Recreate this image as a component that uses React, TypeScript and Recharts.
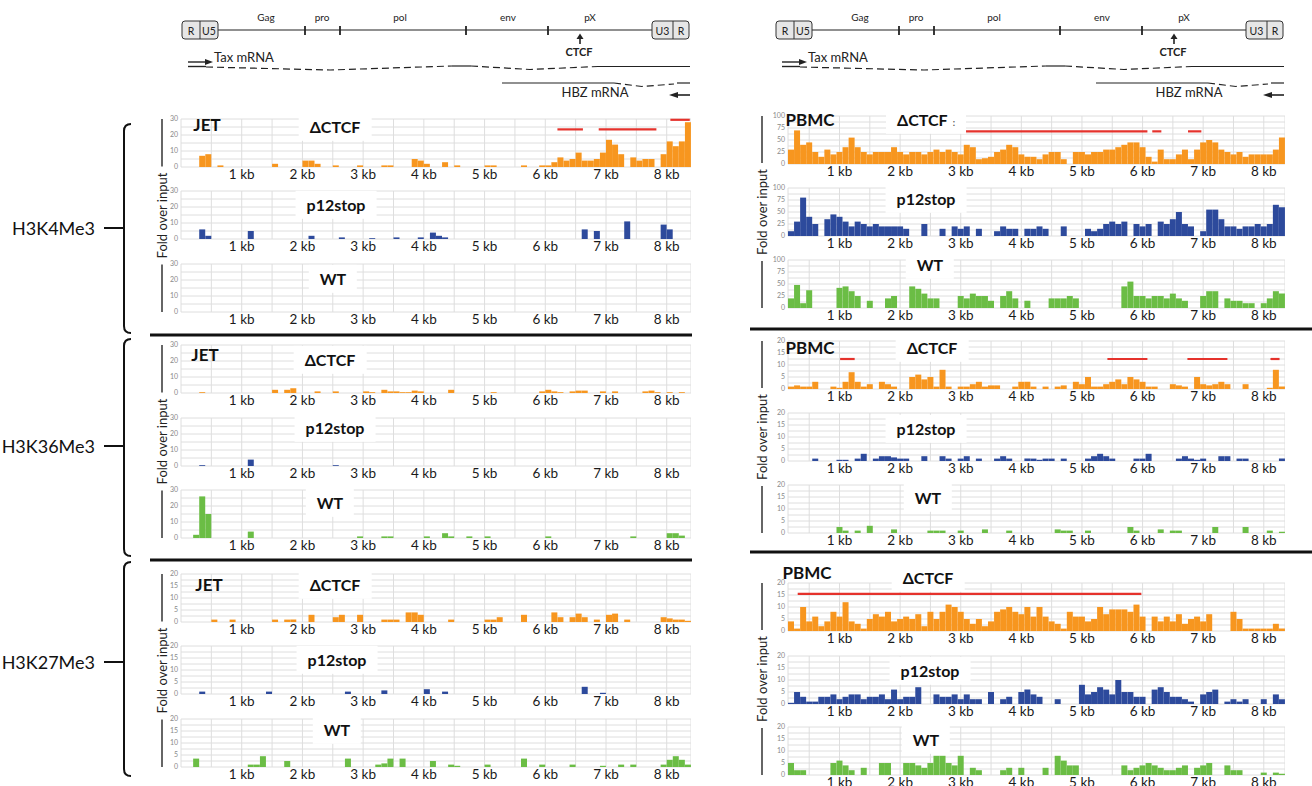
import { BarChart, Bar, XAxis, YAxis, CartesianGrid, ReferenceLine } from 'recharts'

// bin width of every coverage track, in kb
const BIN_KB = 0.1
const kbTicks = [0.5, 1, 1.5, 2, 2.5, 3, 3.5, 4, 4.5, 5, 5.5, 6, 6.5, 7, 7.5, 8]
const yTicks30 = [0, 5, 10, 15, 20, 25, 30]
const yTicks20 = [0, 2.5, 5, 7.5, 10, 12.5, 15, 17.5, 20]
const yTicks100 = [0, 12.5, 25, 37.5, 50, 62.5, 75, 87.5, 100]

// JET cells, bins from 0 kb
const jetK4Ctcf = [
  0, 0, 0, 7, 8, 0, 1, 0, 0, 0, 0, 0, 0, 0, 0, 2, 0, 0, 0, 0,
  4, 4, 2, 0, 0, 1, 0, 0, 0, 1, 0, 0, 0, 1, 1, 0, 0, 0, 5, 4,
  2, 0, 0, 3, 0, 1, 0, 0, 0, 0, 1, 1, 0, 0, 0, 0, 1, 0, 0, 1,
  1, 3, 6, 4, 5, 9, 4, 4, 5, 9, 17, 14, 8, 0, 6, 4, 5, 5, 0, 8,
  16, 13, 16, 28,
]
const jetK4P12 = [
  0, 0, 0, 6, 2, 0, 0, 0, 0, 0, 0, 5, 0, 0, 0, 0, 0, 0, 0, 0,
  0, 2, 0, 0, 0, 0, 1, 0, 0, 0, 0, 0.5, 0, 0, 0, 1, 0, 0, 0, 1,
  0, 4, 2, 1, 0, 0, 0, 0, 0, 0, 0, 0, 0, 0, 0, 0, 0, 0, 0, 0,
  0, 0, 0, 0, 0, 0, 6, 0, 5, 0, 0, 0, 0, 11, 0, 0, 0, 0, 0, 9,
  6, 0, 0, 0,
]
const jetK4Wt = [
  0, 0, 0, 0, 0, 0, 0, 0, 0, 0, 0, 0, 0, 0, 0, 0, 0, 0, 0, 0,
  0, 0, 0, 0, 0, 0, 0, 0, 0, 0, 0, 0, 0, 0, 0, 0, 0, 0, 0, 0,
  0, 0, 0, 0, 0, 0, 0, 0, 0, 0, 0, 0, 0, 0, 0, 0, 0, 0, 0, 0,
  0, 0, 0, 0, 0, 0, 0, 0, 0, 0, 0, 0, 0, 0, 0, 0, 0, 0, 0, 0,
  0, 0, 0, 0,
]
const jetK36Ctcf = [
  0, 0, 0, 0.5, 0, 0, 0, 0, 0, 0, 0, 0, 0, 0, 0, 2, 0, 2, 3, 0,
  0, 0, 1, 0, 0, 1, 0, 0, 0, 0, 1, 0.5, 0, 2, 1, 1, 0.5, 0.5, 1.5, 1,
  0, 0, 0, 0, 2, 0, 0, 0, 0, 0, 0, 0.5, 0, 0, 0, 0, 0, 0, 0, 1,
  2, 1, 0.5, 0, 1, 1.5, 1.5, 0, 0, 1, 0, 1, 0, 0, 0, 0, 1, 1.5, 0.5, 0,
  0.5, 0, 0.5, 0,
]
const jetK36P12 = [
  0, 0, 0, 0.5, 0, 0, 0, 0, 0, 0, 0, 4, 0, 0, 0, 0, 0, 0, 0, 0,
  0, 0, 0, 0, 0, 0.5, 0, 0, 0, 0, 0, 0, 0, 0, 0, 0, 0, 0, 0, 0,
  0, 0, 0, 0, 0, 0, 0, 0, 0, 0, 0, 0, 0, 0, 0, 0, 0, 0, 0, 0,
  0, 0, 0, 0, 0, 0, 0, 0, 0, 0, 0, 0, 0, 0, 0, 0, 0, 0, 0, 0,
  0, 0, 0, 0,
]
const jetK36Wt = [
  0, 0, 2, 26, 15, 0, 0, 0, 0, 0, 0, 4, 0, 0, 0, 0, 0, 0, 0, 0,
  0, 0, 0, 0, 0, 0, 0, 0, 0, 1, 0, 0, 0, 1, 1, 0, 0, 0, 0, 0,
  1, 0, 0, 3, 1, 0, 0, 1, 0, 0, 1, 0, 0, 0, 0, 0, 0, 0, 0, 0,
  1, 0, 0, 0, 0, 0, 0, 0, 0, 0, 0, 0, 0, 0, 1, 0, 0, 0, 0, 0,
  3, 3, 1.5, 0,
]
const jetK27Ctcf = [
  0, 0, 0, 0, 0, 1, 0, 0, 1, 0, 0, 0, 0, 0, 0, 1, 0, 1, 1, 0,
  0, 3, 0, 0, 0, 2, 3, 0, 0, 3, 0, 0, 0, 1, 1, 1, 0, 4, 4, 3,
  0, 0, 0, 0, 1, 0, 0, 0, 0, 0, 1, 1, 2, 0, 0, 0, 3, 0, 0, 0,
  0, 4, 2, 0, 2, 3.5, 2, 0, 1, 0, 3, 3.5, 0, 1, 0, 0, 0, 0, 0, 2,
  1.5, 1, 1, 0.5,
]
const jetK27P12 = [
  0, 0, 0, 1, 0, 0, 0, 0, 0, 0, 0, 0, 0, 0, 1, 0, 0, 0, 0, 0,
  0, 0, 0, 0, 0, 0, 0, 1, 0, 0, 0, 0, 0, 1.5, 0, 0, 0, 0, 0, 0,
  2, 0, 0, 1, 0, 0, 0, 0, 0, 0, 0, 0, 0, 0, 0, 0, 0, 0, 0, 0,
  0, 0, 0, 0, 0, 0, 3, 0, 0, 0.5, 0, 0, 0, 0, 0, 0, 0, 0, 0, 0,
  0, 0, 0, 0,
]
const jetK27Wt = [
  0, 0, 3.5, 0, 0, 0, 0, 0, 0, 0, 0, 1, 1, 4.5, 0, 0, 0, 2.5, 0, 0,
  0, 0, 0, 0, 0, 0, 0, 3.5, 0, 0, 0, 0, 1, 1.5, 3.5, 0, 3.5, 0, 0, 0,
  0, 2.5, 0, 0, 1, 0.5, 0, 0, 0, 0, 1, 0, 0, 0, 0, 0, 3.5, 0, 0, 1,
  0, 0, 0, 0, 1, 0, 0, 0, 0, 0.5, 0, 0, 1, 0, 1, 0, 0, 0, 0, 1,
  3, 4.5, 3, 1,
]

// PBMC, bins from 0.15 kb
const pbmcK4Ctcf = [
  30, 70, 40, 45, 25, 15, 30, 20, 25, 35, 55, 35, 25, 20, 25, 25, 25, 35, 25, 20,
  25, 25, 20, 25, 30, 25, 30, 25, 20, 40, 35, 10, 12, 15, 25, 30, 40, 35, 20, 15,
  15, 10, 20, 25, 25, 10, 0, 25, 25, 20, 25, 25, 30, 30, 35, 40, 45, 45, 35, 15,
  5, 30, 10, 10, 20, 30, 10, 30, 45, 50, 45, 30, 25, 20, 25, 15, 20, 20, 20, 20,
  30, 55,
]
const pbmcK4P12 = [
  10, 30, 80, 40, 25, 0, 35, 45, 40, 30, 20, 30, 25, 20, 25, 20, 20, 20, 20, 15,
  0, 0, 25, 0, 0, 15, 0, 20, 15, 20, 0, 15, 0, 0, 10, 20, 15, 15, 0, 15,
  15, 20, 15, 0, 0, 20, 0, 0, 0, 15, 10, 15, 25, 30, 25, 30, 0, 25, 20, 25,
  0, 30, 25, 35, 50, 25, 20, 0, 10, 55, 55, 35, 20, 20, 15, 20, 20, 25, 20, 25,
  65, 60,
]
const pbmcK4Wt = [
  20, 48, 10, 37, 0, 0, 0, 0, 42, 45, 35, 25, 0, 15, 0, 0, 20, 25, 0, 0,
  45, 40, 30, 20, 20, 0, 0, 0, 25, 20, 30, 25, 25, 15, 0, 25, 35, 20, 0, 15,
  0, 0, 0, 20, 20, 20, 25, 20, 0, 0, 0, 0, 0, 0, 0, 45, 55, 25, 25, 20,
  25, 25, 20, 30, 20, 15, 0, 0, 25, 35, 35, 0, 20, 15, 15, 10, 10, 0, 10, 20,
  35, 30,
]
const pbmcK36Ctcf = [
  1, 1.5, 1, 1, 3, 0, 0, 1, 0.5, 3, 7, 3, 1, 2, 0, 3, 2, 1, 0, 0,
  5, 6, 4, 5, 1, 8, 1, 0, 1, 1, 2, 3, 1, 1.5, 1.5, 0, 0, 1, 3, 3,
  1, 0, 1, 0, 1, 1.5, 0, 3, 2, 5, 1, 1, 2, 3, 4, 2, 5, 4, 3, 1,
  1, 0, 0, 2, 1.5, 1, 0, 5, 2, 1.5, 2, 3, 2, 0, 0, 2, 0, 0, 0, 0.5,
  8, 1,
]
const pbmcK36P12 = [
  0, 0, 0, 0, 1, 0, 0, 0, 0.5, 0.5, 0, 1, 3, 0, 1, 2, 2, 1.5, 1, 1,
  0, 0, 2, 0, 0, 2, 1, 0, 1, 2, 0, 1, 0, 0, 1, 2, 1, 0, 0, 1,
  1, 0.5, 1, 1, 0, 1, 0, 0, 0, 1, 2, 3, 2, 1, 0, 0, 0, 1, 1, 3,
  0, 0, 0, 0, 1, 2, 1, 0.5, 1, 0, 0, 2, 2, 0, 1, 1, 0, 0, 0, 0,
  0, 1,
]
const pbmcK36Wt = [
  0, 0, 0, 0, 0, 0, 0, 0, 2.5, 1, 0, 1, 0, 3, 0, 0, 0, 1.5, 0, 0,
  0, 0, 0, 1, 1, 1, 0, 0, 1, 0, 0, 0, 1.5, 0, 0, 0, 1, 0, 0, 0,
  0, 0, 0, 0, 1.5, 1, 1, 0, 0, 1, 0, 0, 0, 0, 0, 0, 2.5, 1, 0, 0,
  0, 1.5, 0, 1, 1, 0, 0, 0, 0, 0, 2.5, 0, 0, 0, 0, 2.5, 0, 0, 0, 1,
  0, 0.5,
]
const pbmcK27Ctcf = [
  4, 1, 10, 4, 6, 2, 4, 8, 6, 12, 4, 3, 1, 5, 7, 6, 8, 4, 5, 6,
  5, 7, 2, 8, 5, 8, 11, 10, 8, 5, 3, 5, 2, 4, 8, 9, 10, 8, 7, 10,
  6, 10, 6, 4, 3, 1, 8, 6, 6, 4, 5, 10, 7, 9, 9, 9, 8, 11, 6, 0,
  6, 4, 6, 4, 7, 3, 5, 6, 4, 7, 0, 0, 0, 8, 5, 1, 1, 1, 1, 1,
  3, 1,
]
const pbmcK27P12 = [
  0.5, 5, 3, 1, 1, 3, 3, 4, 2, 3, 4, 4, 2, 3, 3, 4, 2, 6, 2, 3,
  3, 7, 0, 0, 4, 3, 3, 4, 2, 4, 2, 2, 0, 5, 0, 2, 3, 0, 5, 6,
  4, 3, 0, 0, 2, 0, 0, 0, 8, 4, 5, 7, 6, 4, 10, 5, 5, 3, 3, 0,
  6, 7, 5, 3, 3, 2, 1, 0, 4, 5, 6, 0, 1, 2, 1, 2, 0, 0, 2, 0,
  4, 2,
]
const pbmcK27Wt = [
  5, 2, 2, 0, 0, 0, 0, 5, 6, 4, 2, 0, 3, 0, 0, 5, 5, 0, 0, 5,
  5, 4, 3, 5, 8, 8, 5, 4, 8, 0, 3, 2, 0, 0, 0, 2, 3, 0, 3, 0,
  0, 0, 3, 0, 8, 6, 4, 4, 0, 0, 0, 0, 0, 0, 0, 4, 2, 3, 4, 5,
  4, 3, 2, 2, 3, 4, 0, 3, 4, 5, 0, 0, 4, 2, 2, 0, 0, 0, 1, 0,
  1, 0.5,
]

// red bars: [from kb, to kb, level]
const jetK4Marks = [[6.2, 6.62, 23.5], [6.88, 7.83, 23.5], [8.06, 8.38, 29.5]]
const pbmcK4Marks = [[3.03, 6.08, 68], [6.16, 6.31, 68], [6.75, 6.97, 68]]
const pbmcK36Marks = [[1.01, 1.25, 12.5], [2.02, 2.69, 12.5], [5.42, 6.08, 12.5], [6.74, 7.4, 12.5], [8.11, 8.26, 12.5]]
const pbmcK27Marks = [[0.31, 5.98, 15.5]]

const ORANGE = '#f7961f'
const BLUE = '#2d4a9c'
const GREEN = '#6bbd45'
const RED = '#e5322c'

const PLOT_H = 48
const AXIS_W = 18
const TOP_PAD = 6
const XAXIS_H = 20

const LEFT = { x: 181, w: 510, start: 0 }
const RIGHT = { x: 788, w: 497, start: 0.15 }

type Col = { x: number; w: number; start: number }
type Track = {
  values: number[]
  col: Col
  top: number
  color: string
  yTicks: number[]
  labelStep: number
  marks?: number[][]
}

const tracks: Track[] = [
  { values: jetK4Ctcf, col: LEFT, top: 119, color: ORANGE, yTicks: yTicks30, labelStep: 10, marks: jetK4Marks },
  { values: jetK4P12, col: LEFT, top: 191, color: BLUE, yTicks: yTicks30, labelStep: 10 },
  { values: jetK4Wt, col: LEFT, top: 264, color: GREEN, yTicks: yTicks30, labelStep: 10 },
  { values: jetK36Ctcf, col: LEFT, top: 345, color: ORANGE, yTicks: yTicks30, labelStep: 10 },
  { values: jetK36P12, col: LEFT, top: 418, color: BLUE, yTicks: yTicks30, labelStep: 10 },
  { values: jetK36Wt, col: LEFT, top: 490, color: GREEN, yTicks: yTicks30, labelStep: 10 },
  { values: jetK27Ctcf, col: LEFT, top: 574, color: ORANGE, yTicks: yTicks20, labelStep: 5 },
  { values: jetK27P12, col: LEFT, top: 646, color: BLUE, yTicks: yTicks20, labelStep: 5 },
  { values: jetK27Wt, col: LEFT, top: 719, color: GREEN, yTicks: yTicks20, labelStep: 5 },
  { values: pbmcK4Ctcf, col: RIGHT, top: 116, color: ORANGE, yTicks: yTicks100, labelStep: 25, marks: pbmcK4Marks },
  { values: pbmcK4P12, col: RIGHT, top: 188, color: BLUE, yTicks: yTicks100, labelStep: 25 },
  { values: pbmcK4Wt, col: RIGHT, top: 260, color: GREEN, yTicks: yTicks100, labelStep: 25 },
  { values: pbmcK36Ctcf, col: RIGHT, top: 341, color: ORANGE, yTicks: yTicks20, labelStep: 5, marks: pbmcK36Marks },
  { values: pbmcK36P12, col: RIGHT, top: 413, color: BLUE, yTicks: yTicks20, labelStep: 5 },
  { values: pbmcK36Wt, col: RIGHT, top: 485, color: GREEN, yTicks: yTicks20, labelStep: 5 },
  { values: pbmcK27Ctcf, col: RIGHT, top: 583, color: ORANGE, yTicks: yTicks20, labelStep: 5, marks: pbmcK27Marks },
  { values: pbmcK27P12, col: RIGHT, top: 656, color: BLUE, yTicks: yTicks20, labelStep: 5 },
  { values: pbmcK27Wt, col: RIGHT, top: 727, color: GREEN, yTicks: yTicks20, labelStep: 5 },
]

// [text, centre x, centre y, big]
const trackLabels: [string, number, number, boolean][] = [
  ['JET', 207, 125, true], ['ΔCTCF', 335, 127, false], ['p12stop', 336, 205, false], ['WT', 333, 279, false],
  ['JET', 205, 355, true], ['ΔCTCF', 330, 360, false], ['p12stop', 335, 428, false], ['WT', 330, 503, false],
  ['JET', 209, 585, true], ['ΔCTCF', 335, 585, false], ['p12stop', 337, 660, false], ['WT', 337, 730, false],
  ['PBMC', 810, 120, true], ['ΔCTCF', 926, 120, false], ['p12stop', 926, 199, false], ['WT', 930, 265, false],
  ['PBMC', 810, 348, true], ['ΔCTCF', 932, 348, false], ['p12stop', 926, 429, false], ['WT', 928, 498, false],
  ['PBMC', 807, 573, true], ['ΔCTCF', 928, 578, false], ['p12stop', 930, 671, false], ['WT', 926, 740, false],
]

const histoneGroups = [
  { name: 'H3K4Me3', y: 228, top: 124, bottom: 333 },
  { name: 'H3K36Me3', y: 446, top: 339, bottom: 556 },
  { name: 'H3K27Me3', y: 662, top: 562, bottom: 776 },
]

const foldAxes = [
  { x: 162, top: 119, bottom: 312 }, { x: 162, top: 345, bottom: 538 }, { x: 162, top: 574, bottom: 767 },
  { x: 762, top: 116, bottom: 308 }, { x: 762, top: 341, bottom: 533 }, { x: 762, top: 583, bottom: 775 },
]

function TrackChart({ t }: { t: Track }) {
  const start = t.col.start
  const end = +(start + t.values.length * BIN_KB).toFixed(3)
  const data = t.values.map((v, i) => ({ bin: i, kb: +(start + (i + 0.5) * BIN_KB).toFixed(3), v }))
  const xTicks = [start, ...kbTicks.filter((k) => k > start + 1e-6 && k < end - 1e-6), end]
  const yMax = t.yTicks[t.yTicks.length - 1]
  return (
    <div style={{ position: 'absolute', left: t.col.x - AXIS_W, top: t.top - TOP_PAD }}>
      <BarChart
        width={t.col.w + AXIS_W}
        height={TOP_PAD + PLOT_H + XAXIS_H}
        data={data}
        margin={{ top: TOP_PAD, right: 0, bottom: 0, left: 0 }}
        barCategoryGap={0}
        barGap={0}
      >
        <CartesianGrid xAxisId="kb" stroke="#dedede" strokeWidth={1} />
        <XAxis
          xAxisId="kb"
          dataKey="kb"
          type="number"
          domain={[start, end]}
          ticks={xTicks}
          interval={0}
          allowDataOverflow
          height={XAXIS_H}
          axisLine={false}
          tickLine={false}
          tickSize={0}
          tickMargin={2}
          tick={{ fontSize: 13.5, fill: '#1a1a1a' }}
          tickFormatter={(v: number) => (Number.isInteger(v) && v >= 1 ? `${v} kb` : '')}
        />
        <XAxis xAxisId="bin" dataKey="bin" type="category" hide height={0} />
        <YAxis
          type="number"
          domain={[0, yMax]}
          ticks={t.yTicks}
          interval={0}
          width={AXIS_W}
          axisLine={false}
          tickLine={false}
          tickSize={0}
          tickMargin={3}
          tick={{ fontSize: 7, fill: '#8a8a8a' }}
          tickFormatter={(v: number) => (v % t.labelStep === 0 ? String(v) : '')}
        />
        <Bar xAxisId="bin" dataKey="v" fill={t.color} isAnimationActive={false} />
        {t.marks?.map(([a, b, y], i) => (
          <ReferenceLine
            key={i}
            xAxisId="kb"
            segment={[{ x: a, y }, { x: b, y }]}
            stroke={RED}
            strokeWidth={2.2}
          />
        ))}
      </BarChart>
    </div>
  )
}

function GenomeMap({ dx }: { dx: number }) {
  const X = (x: number) => x + dx
  const ink = '#222'
  return (
    <g>
      {[['Gag', 266], ['pro', 322], ['pol', 400], ['env', 508], ['pX', 590]].map(([s, x]) => (
        <text key={s as string} x={X(x as number)} y={17} fontSize={10} textAnchor="middle" dominantBaseline="central" fill={ink}>
          {s}
        </text>
      ))}
      <line x1={X(218)} y1={30} x2={X(652)} y2={30} stroke={ink} strokeWidth={1.2} />
      {[305, 340, 466, 548].map((x) => (
        <line key={x} x1={X(x)} y1={26} x2={X(x)} y2={35} stroke={ink} strokeWidth={1.8} />
      ))}
      <rect x={X(182)} y={21} width={36} height={18} rx={3} fill="#e6e6e6" stroke="#333" strokeWidth={1} />
      <line x1={X(200)} y1={21} x2={X(200)} y2={39} stroke="#333" strokeWidth={1} />
      <text x={X(191)} y={30.5} fontSize={10.5} textAnchor="middle" dominantBaseline="central" fill={ink}>R</text>
      <text x={X(209)} y={30.5} fontSize={10.5} textAnchor="middle" dominantBaseline="central" fill={ink}>U5</text>
      <rect x={X(652)} y={21} width={37} height={18} rx={3} fill="#e6e6e6" stroke="#333" strokeWidth={1} />
      <line x1={X(673)} y1={21} x2={X(673)} y2={39} stroke="#333" strokeWidth={1} />
      <text x={X(662.5)} y={30.5} fontSize={10.5} textAnchor="middle" dominantBaseline="central" fill={ink}>U3</text>
      <text x={X(681)} y={30.5} fontSize={10.5} textAnchor="middle" dominantBaseline="central" fill={ink}>R</text>
      <line x1={X(580)} y1={37} x2={X(580)} y2={44} stroke={ink} strokeWidth={1.6} />
      <polygon points={`${X(576.5)},39 ${X(583.5)},39 ${X(580)},33.5`} fill={ink} />
      <text x={X(579)} y={51} fontSize={11} fontWeight={700} textAnchor="middle" dominantBaseline="central" fill={ink}>CTCF</text>
      <text x={X(214)} y={57} fontSize={13} dominantBaseline="central" fill={ink}>Tax mRNA</text>
      <line x1={X(188)} y1={62} x2={X(207)} y2={62} stroke={ink} strokeWidth={1.4} />
      <polygon points={`${X(205)},59 ${X(213)},62 ${X(205)},65`} fill={ink} />
      <line x1={X(188)} y1={66.5} x2={X(206)} y2={66.5} stroke={ink} strokeWidth={1.4} />
      <polyline points={`${X(206)},67 ${X(330)},70 ${X(452)},66`} fill="none" stroke={ink} strokeWidth={1.2} strokeDasharray="7 4" />
      <line x1={X(452)} y1={66} x2={X(471)} y2={66} stroke={ink} strokeWidth={1.2} />
      <polyline points={`${X(471)},66 ${X(530)},69.5 ${X(598)},66.5`} fill="none" stroke={ink} strokeWidth={1.2} strokeDasharray="7 4" />
      <line x1={X(598)} y1={66.5} x2={X(690)} y2={66.5} stroke={ink} strokeWidth={1.2} />
      <line x1={X(502)} y1={83} x2={X(614)} y2={83} stroke={ink} strokeWidth={1.2} />
      <polyline points={`${X(614)},83 ${X(642)},86.5 ${X(674)},84`} fill="none" stroke={ink} strokeWidth={1.2} strokeDasharray="7 4" />
      <line x1={X(677)} y1={83} x2={X(690)} y2={83} stroke={ink} strokeWidth={1.2} />
      <text x={X(595)} y={92} fontSize={13} textAnchor="middle" dominantBaseline="central" fill={ink}>HBZ mRNA</text>
      <line x1={X(676)} y1={95} x2={X(690)} y2={95} stroke={ink} strokeWidth={1.6} />
      <polygon points={`${X(678)},92 ${X(669)},95 ${X(678)},98`} fill={ink} />
    </g>
  )
}

function Overlay() {
  return (
    <svg width={1312} height={786} style={{ position: 'absolute', left: 0, top: 0, pointerEvents: 'none' }}>
      <GenomeMap dx={0} />
      <GenomeMap dx={594} />
      {histoneGroups.map((g) => (
        <g key={g.name}>
          <text x={95} y={g.y} fontSize={18} textAnchor="end" dominantBaseline="central" fill="#111">{g.name}</text>
          <line x1={104} y1={g.y} x2={124} y2={g.y} stroke="#111" strokeWidth={2} />
          <path
            d={`M 131 ${g.top} Q 124 ${g.top} 124 ${g.top + 7} L 124 ${g.bottom - 7} Q 124 ${g.bottom} 131 ${g.bottom}`}
            fill="none"
            stroke="#111"
            strokeWidth={2}
          />
        </g>
      ))}
      {foldAxes.map((f, i) => {
        const cy = (f.top + f.bottom) / 2
        return (
          <g key={i}>
            <line x1={f.x} y1={f.top} x2={f.x} y2={cy - 49} stroke="#333" strokeWidth={1.5} />
            <line x1={f.x} y1={cy + 49} x2={f.x} y2={f.bottom} stroke="#333" strokeWidth={1.5} />
            <text
              x={f.x}
              y={cy}
              fontSize={13}
              textAnchor="middle"
              dominantBaseline="central"
              fill="#222"
              transform={`rotate(-90 ${f.x} ${cy})`}
            >
              Fold over input
            </text>
          </g>
        )
      })}
      <line x1={150} y1={335} x2={692} y2={335} stroke="#111" strokeWidth={3} />
      <line x1={150} y1={560} x2={692} y2={560} stroke="#111" strokeWidth={3} />
      <line x1={750} y1={329} x2={1312} y2={329} stroke="#111" strokeWidth={3} />
      <line x1={750} y1={552} x2={1312} y2={552} stroke="#111" strokeWidth={3} />
    </svg>
  )
}

export default function App() {
  return (
    <div
      style={{
        position: 'absolute',
        left: 0,
        top: 0,
        width: 1312,
        height: 786,
        background: '#fff',
        overflow: 'hidden',
        fontFamily: 'Lato, "Open Sans", sans-serif',
      }}
    >
      {tracks.map((t, i) => (
        <TrackChart key={i} t={t} />
      ))}
      <Overlay />
      {trackLabels.map(([s, x, y, big], i) => (
        <div
          key={i}
          style={{
            position: 'absolute',
            left: x,
            top: y,
            transform: 'translate(-50%, -50%)',
            fontSize: big ? 17 : 16,
            fontWeight: 700,
            color: '#111',
            background: big ? 'transparent' : '#fff',
            padding: big ? 0 : '5px 11px',
            lineHeight: 1.15,
            whiteSpace: 'nowrap',
          }}
        >
          {s}
          {i === 13 ? <span style={{ fontSize: 9, color: '#555', marginLeft: 5 }}>:</span> : null}
        </div>
      ))}
    </div>
  )
}
